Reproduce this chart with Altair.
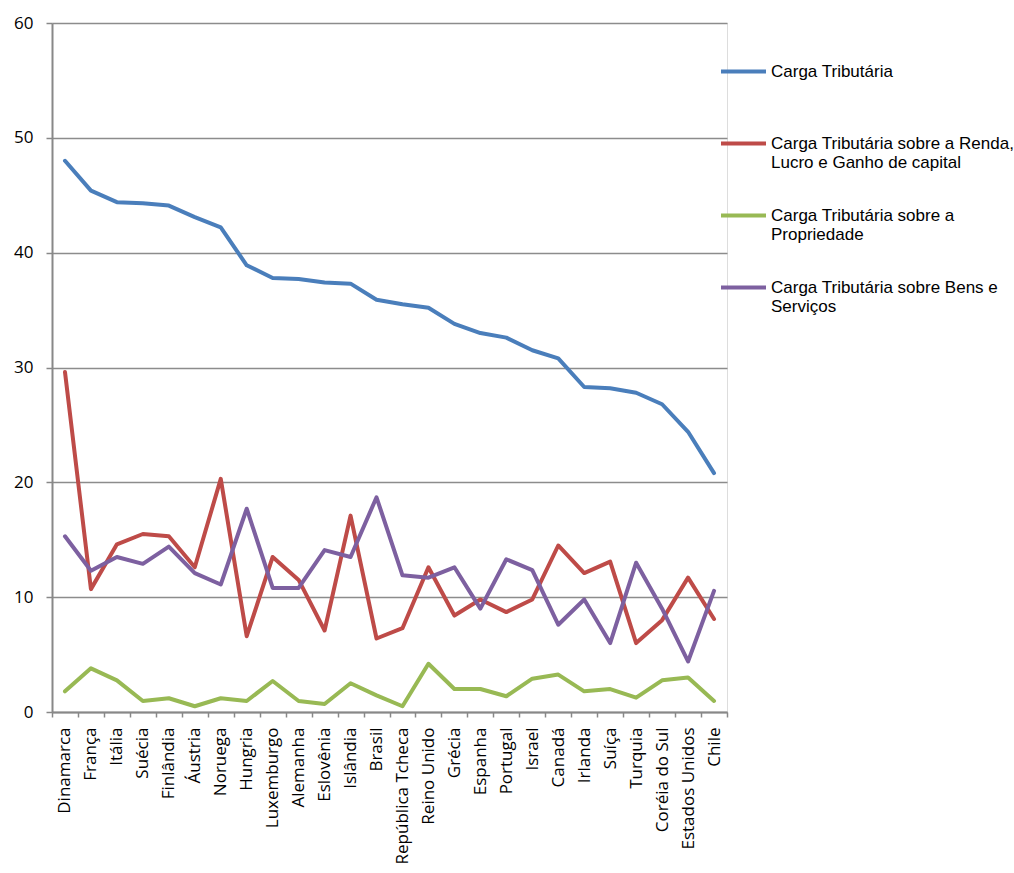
import altair as alt
import pandas as pd

countries = ["Dinamarca", "França", "Itália", "Suécia", "Finlândia", "Áustria", "Noruega",
             "Hungria", "Luxemburgo", "Alemanha", "Eslovênia", "Islândia", "Brasil",
             "República Tcheca", "Reino Unido", "Grécia", "Espanha", "Portugal", "Israel",
             "Canadá", "Irlanda", "Suíça", "Turquia", "Coréia do Sul", "Estados Unidos", "Chile"]

carga_total = [48.0, 45.4, 44.4, 44.3, 44.1, 43.1, 42.2, 38.9, 37.8, 37.7, 37.4, 37.3, 35.9,
               35.5, 35.2, 33.8, 33.0, 32.6, 31.5, 30.8, 28.3, 28.2, 27.8, 26.8, 24.4, 20.8]
carga_renda = [29.6, 10.7, 14.6, 15.5, 15.3, 12.6, 20.3, 6.6, 13.5, 11.5, 7.1, 17.1, 6.4,
               7.3, 12.6, 8.4, 9.8, 8.7, 9.8, 14.5, 12.1, 13.1, 6.0, 8.0, 11.7, 8.1]
carga_propriedade = [1.8, 3.8, 2.75, 0.96, 1.2, 0.5, 1.2, 0.96, 2.7, 0.96, 0.7, 2.5, 1.45,
                     0.5, 4.2, 2.0, 2.0, 1.37, 2.9, 3.26, 1.8, 2.0, 1.25, 2.76, 3.0, 0.96]
carga_bens = [15.3, 12.3, 13.5, 12.9, 14.4, 12.1, 11.1, 17.7, 10.8, 10.8, 14.1, 13.5, 18.7,
              11.9, 11.7, 12.6, 9.0, 13.3, 12.35, 7.6, 9.8, 6.0, 13.0, 9.0, 4.4, 10.55]

series_names = [
    "Carga Tributária|",
    "Carga Tributária sobre a Renda,|Lucro e Ganho de capital",
    "Carga Tributária sobre a|Propriedade",
    "Carga Tributária sobre Bens e|Serviços",
]
series_values = [carga_total, carga_renda, carga_propriedade, carga_bens]
series_colors = ["#4A7EBB", "#BE4B48", "#98B954", "#7D60A0"]

rows = []
for name, vals in zip(series_names, series_values):
    for c, v in zip(countries, vals):
        rows.append({"País": c, "Série": name, "Valor": v})
df = pd.DataFrame(rows)

chart = alt.Chart(df).mark_line(strokeWidth=4, strokeCap="round", strokeJoin="round").encode(
    x=alt.X("País:N", sort=countries,
            scale=alt.Scale(type="band", paddingInner=0, paddingOuter=0),
            axis=alt.Axis(title=None, labelAngle=270, labelAlign="right", labelBaseline="middle",
                          tickBand="extent", grid=False, labelFont="Open Sans", labelFontSize=17,
                          labelColor="#000000", labelPadding=10, tickSize=5, tickColor="#888888",
                          tickWidth=1.5, domainColor="#888888", domainWidth=2, labelLimit=300)),
    y=alt.Y("Valor:Q", scale=alt.Scale(domain=[0, 60], nice=False),
            axis=alt.Axis(title=None, values=[0, 10, 20, 30, 40, 50, 60], grid=True,
                          gridColor="#8c8c8c", gridWidth=1.5, labelFont="Open Sans",
                          labelFontSize=17, labelColor="#000000", labelPadding=13,
                          tickSize=6, tickColor="#888888", tickWidth=1.5,
                          domainColor="#888888", domainWidth=2)),
    color=alt.Color("Série:N", sort=series_names,
                    scale=alt.Scale(domain=series_names, range=series_colors),
                    legend=alt.Legend(title=None, orient="none", legendX=667, legendY=24,
                                      symbolType="stroke", symbolSize=2025, symbolStrokeWidth=4,
                                      labelFont="Liberation Sans", labelFontSize=17,
                                      labelColor="#000000", labelOffset=3, rowPadding=20,
                                      labelLimit=400,
                                      labelExpr="split(datum.label, '|')")),
).properties(
    width=675, height=689,
    autosize="none",
    padding={"left": 52, "top": 23, "right": 287, "bottom": 161},
).configure_view(stroke=None).configure(background="white")

chart.save("out.html", embed_options={"renderer": "svg", "actions": False})
